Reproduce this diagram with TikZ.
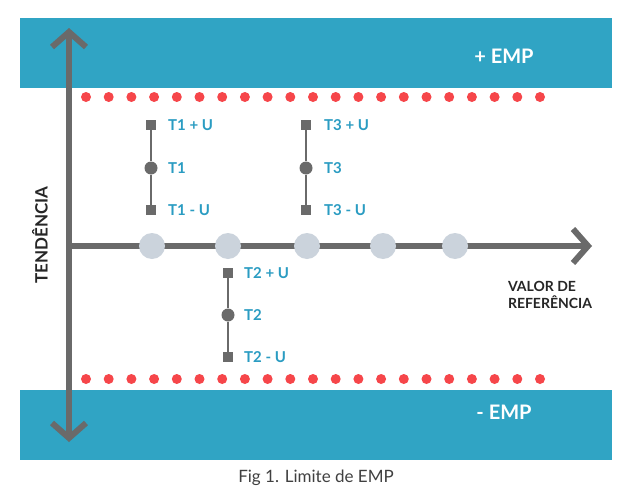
\documentclass[tikz,border=0pt]{standalone}
\usepackage{fontspec}
\setmainfont{Lato}
\usetikzlibrary{arrows.meta}
\definecolor{band}{HTML}{30A4C4}
\definecolor{lbl}{HTML}{2A9CC2}
\definecolor{axis}{HTML}{6A6A6A}
\definecolor{dotred}{HTML}{F6464A}
\definecolor{pt}{HTML}{CBD3DC}
\begin{document}
\begin{tikzpicture}[x=1pt,y=-1pt,
  ax/.style={draw=axis,line width=6pt,-{Straight Barb[length=15pt,width=34pt,line width=6pt]}},
  seg/.style={draw=axis,line width=2pt},
  sq/.style={fill=axis,minimum size=10pt,inner sep=0pt,draw=none,rectangle},
  md/.style={fill=axis,circle,minimum size=13pt,inner sep=0pt},
  pt/.style={fill=pt,circle,minimum size=26pt,inner sep=0pt},
  lb/.style={text=lbl,font=\bfseries\fontsize{15}{15}\selectfont,anchor=west,inner sep=0pt},
  wt/.style={text=white,font=\bfseries\fontsize{20}{20}\selectfont},
  rd/.style={fill=dotred,circle,minimum size=10pt,inner sep=0pt}]
\useasboundingbox (0,0) rectangle (630,498);
\fill[white] (0,0) rectangle (630,498);
\fill[band] (20,18) rectangle (612,88);
\fill[band] (20,390) rectangle (612,460);
\node[wt] (pemp) at (504,56) {+ EMP};
\node[wt] (memp) at (504,412) {- EMP};
\foreach \i in {0,...,20} {
  \node[rd] (t\i) at (86+22.7*\i,97) {};
  \node[rd] (b\i) at (86+22.7*\i,379) {};
}
% axes
\coordinate (yt) at (69,28);
\coordinate (yb) at (69,442);
\coordinate (xr) at (592,246);
\draw[ax] (69,246) -- (yt);
\draw[ax] (69,246) -- (yb);
\draw[ax] (66,246) -- (xr);
\foreach \x [count=\k] in {152,228,307,383,455} \node[pt] (p\k) at (\x,246) {};
% T1
\node[sq] (a1) at (151,125) {}; \node[md] (a2) at (151,168) {}; \node[sq] (a3) at (151,210) {};
\draw[seg] (a1) -- (a2) -- (a3);
\node[lb] at (168,125) {T1 + U}; \node[lb] at (168,168) {T1}; \node[lb] at (168,210) {T1 - U};
% T3
\node[sq] (c1) at (306,125) {}; \node[md] (c2) at (306,168) {}; \node[sq] (c3) at (306,210) {};
\draw[seg] (c1) -- (c2) -- (c3);
\node[lb] at (324,125) {T3 + U}; \node[lb] at (324,168) {T3}; \node[lb] at (324,210) {T3 - U};
% T2
\node[sq] (e1) at (228,273) {}; \node[md] (e2) at (228,315) {}; \node[sq] (e3) at (228,357) {};
\draw[seg] (e1) -- (e2) -- (e3);
\node[lb] at (244,273) {T2 + U}; \node[lb] at (244,315) {T2}; \node[lb] at (244,357) {T2 - U};
\node[font=\bfseries\fontsize{14}{17}\selectfont,align=left,text=black!85] (vr) at (550,295) {VALOR DE\\REFERÊNCIA};
\node[font=\bfseries\fontsize{17}{17}\selectfont,rotate=90,text=black!85] (td) at (40,235) {TENDÊNCIA};
\node[font=\fontsize{17}{17}\selectfont,text=black!75] (cap) at (316,478) {Fig 1. Limite de EMP};
\end{tikzpicture}
\end{document}
